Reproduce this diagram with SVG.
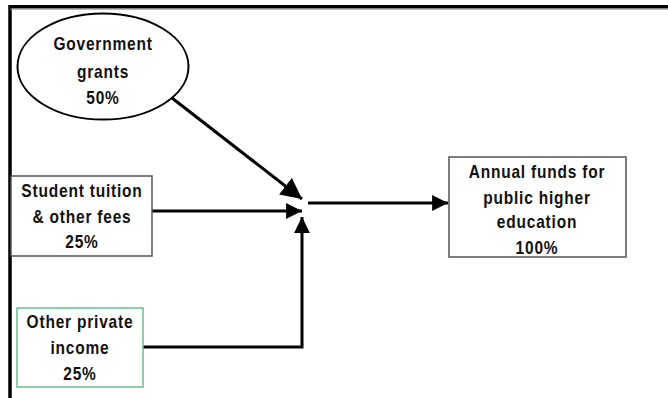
<svg xmlns="http://www.w3.org/2000/svg" width="668" height="398" viewBox="0 0 668 398">
<style>
text{font-family:"Liberation Sans",Arial,sans-serif;font-size:15.5px;font-weight:bold;letter-spacing:0.8px;fill:#111;text-anchor:middle;transform-box:fill-box;transform-origin:center bottom;transform:scaleY(1.15)}
.box{fill:#fff;stroke:#555;stroke-width:1.5}
.conn{fill:none;stroke:#000;stroke-width:3}
</style>
<defs>
<marker id="ah" viewBox="0 0 10 10" refX="10" refY="5" markerWidth="5.3" markerHeight="5.3" markerUnits="strokeWidth" orient="auto">
<path d="M0,0 L10,5 L0,10 z" fill="#000"/>
</marker>
<marker id="ahs" viewBox="0 0 10 10" refX="10" refY="5" markerWidth="7" markerHeight="7" markerUnits="strokeWidth" orient="auto">
<path d="M0,0 L10,5 L0,10 z" fill="#000"/>
</marker>
</defs>
<rect width="668" height="398" fill="#fff"/>
<path d="M10,398 V6.8 H668" fill="none" stroke="#000" stroke-width="3.5"/>
<line x1="10" y1="9.2" x2="668" y2="9.2" stroke="#999" stroke-width="1"/>
<g id="connectors">
<line class="conn" x1="172" y1="98" x2="302" y2="199" stroke-width="2" marker-end="url(#ahs)"/>
<line class="conn" x1="152" y1="211" x2="302" y2="211" marker-end="url(#ah)"/>
<polyline class="conn" points="143,347 302,347 302,217" marker-end="url(#ah)"/>
<line class="conn" x1="308" y1="203" x2="448" y2="203" marker-end="url(#ah)"/>
</g>
<g id="government">
<ellipse cx="103" cy="66.5" rx="85.5" ry="53" fill="#fff" stroke="#000" stroke-width="2"/>
<text x="103" y="51">Government</text>
<text x="103" y="79">grants</text>
<text x="103" y="105">50%</text>
</g>
<g id="tuition">
<rect class="box" x="11" y="176" width="141" height="80"/>
<text x="82" y="198">Student tuition</text>
<text x="82" y="224">&amp; other fees</text>
<text x="82" y="249">25%</text>
</g>
<g id="private">
<rect x="17" y="308" width="126" height="79" fill="#fff" stroke="#6bbf8e" stroke-width="1.5"/>
<text x="80" y="329">Other private</text>
<text x="80" y="355">income</text>
<text x="80" y="381">25%</text>
</g>
<g id="annual">
<rect class="box" x="449" y="157" width="177" height="100"/>
<text x="537" y="179">Annual funds for</text>
<text x="537" y="205">public higher</text>
<text x="537" y="229">education</text>
<text x="537" y="255">100%</text>
</g>
</svg>
